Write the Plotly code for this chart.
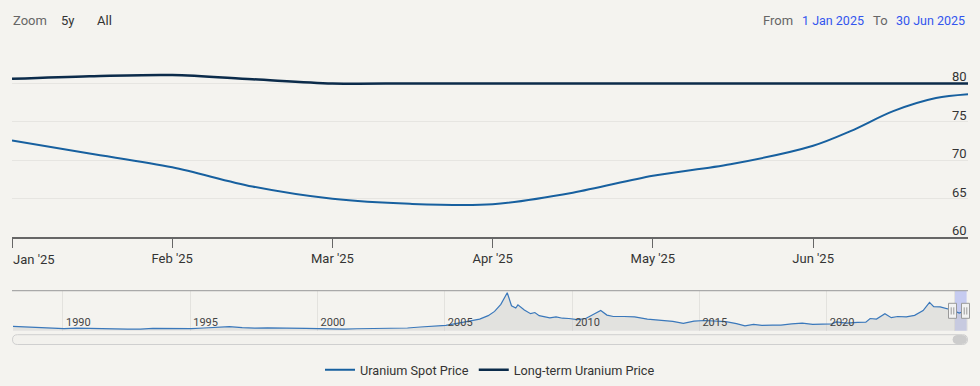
import plotly.graph_objects as go
import datetime as dt
import calendar

# ---------------- data ----------------
main_dates = ["2025-01-01", "2025-01-16", "2025-02-01", "2025-02-15", "2025-03-01",
              "2025-03-16", "2025-04-01", "2025-04-16", "2025-05-01", "2025-05-16",
              "2025-06-01", "2025-06-08", "2025-06-16", "2025-06-24", "2025-06-30"]
spot_price = [72.6, 70.9, 69.1, 66.6, 65.0,
              64.35, 64.3, 65.8, 68.0, 69.5,
              71.9, 73.8, 76.4, 78.1, 78.6]
longterm_price = [80.6, 80.95, 81.1, 80.55, 80.0,
                  80.0, 80.0, 80.0, 80.0, 80.0,
                  80.0, 80.0, 80.0, 80.0, 80.0]

month_ticks = ["2025-01-01", "2025-02-01", "2025-03-01", "2025-04-01",
               "2025-05-01", "2025-06-01"]
month_labels = ["Jan '25", "Feb '25", "Mar '25", "Apr '25", "May '25", "Jun '25"]
y_ticks = [60, 65, 70, 75, 80]

nav_dates = ["1988-01-15", "1988-07-15", "1989-01-15", "1989-07-15", "1990-01-15", "1990-07-15",
             "1991-01-15", "1991-07-15", "1992-01-15", "1992-07-15", "1993-01-15", "1993-07-15",
             "1994-01-15", "1994-07-15", "1995-01-15", "1995-07-15", "1996-01-15", "1996-07-15",
             "1997-01-15", "1997-07-15", "1998-01-15", "1998-07-15", "1999-01-15", "1999-07-15",
             "2000-01-15", "2000-07-15", "2001-01-15", "2001-07-15", "2002-01-15", "2002-07-15",
             "2003-01-15", "2003-07-15", "2004-01-15", "2004-07-15", "2005-01-15", "2005-07-15",
             "2006-01-15", "2006-05-15", "2006-09-15", "2006-12-15", "2007-03-15", "2007-06-15",
             "2007-08-15", "2007-10-15", "2007-11-15", "2008-02-15", "2008-05-15", "2008-07-15",
             "2008-09-15", "2008-11-15", "2009-02-15", "2009-05-15", "2009-08-15", "2009-11-15",
             "2010-03-15", "2010-07-15", "2010-11-15", "2011-02-15", "2011-05-15", "2011-08-15",
             "2012-01-15", "2012-06-15", "2012-12-15", "2013-06-15", "2013-12-15", "2014-05-15",
             "2014-10-15", "2015-03-15", "2015-08-15", "2016-01-15", "2016-06-15", "2016-10-15",
             "2017-02-15", "2017-06-15", "2017-11-15", "2018-03-15", "2018-08-15", "2019-01-15",
             "2019-06-15", "2019-11-15", "2020-03-15", "2020-05-15", "2020-10-15", "2021-03-15",
             "2021-07-15", "2021-09-15", "2021-12-15", "2022-04-15", "2022-07-15", "2022-10-15",
             "2023-02-15", "2023-06-15", "2023-10-15", "2024-01-15", "2024-03-15", "2024-06-15",
             "2024-09-15", "2024-12-15", "2025-03-15", "2025-06-15", "2025-07-15"]
nav_values = [17.0, 15.0, 11.5, 10.0, 9.5, 11.0,
              9.5, 9.0, 8.5, 7.8, 7.5, 10.0,
              9.5, 9.3, 9.6, 11.5, 15.0, 16.3,
              13.0, 11.0, 12.0, 10.5, 10.8, 10.0,
              9.5, 8.0, 7.3, 8.8, 9.8, 9.9,
              10.2, 11.5, 15.0, 18.5, 21.0, 29.0,
              37.0, 43.0, 55.0, 70.0, 95.0, 136.0,
              90.0, 82.0, 93.0, 75.0, 62.0, 66.0,
              55.0, 52.0, 47.0, 51.0, 46.0, 45.0,
              41.0, 45.0, 60.0, 73.0, 57.0, 52.0,
              52.0, 51.0, 43.0, 40.0, 35.0, 28.0,
              36.0, 38.0, 36.0, 34.0, 27.0, 19.0,
              24.0, 20.5, 22.0, 21.5, 26.0, 28.5,
              24.5, 25.5, 26.0, 33.0, 29.0, 31.0,
              32.0, 45.0, 43.0, 62.0, 48.0, 52.0,
              50.5, 56.0, 73.0, 102.0, 87.0, 86.0,
              81.0, 74.0, 64.0, 72.0, 78.5]

range_from = "1 Jan 2025"
range_to = "30 Jun 2025"

# ---------------- helpers ----------------
W, H = 980, 386
ML, MR = 12, 12
PW = W - ML - MR


def ordinal_pos(d):
    """Ordinal (month-index) position, like Highcharts' ordinal axis."""
    t = dt.date.fromisoformat(d)
    days = calendar.monthrange(t.year, t.month)[1]
    return (t.year - 2025) * 12 + (t.month - 1) + (t.day - 1) / days


def px(x):
    return (x - ML) / PW


def py(y):
    return 1 - y / H


main_x = [ordinal_pos(d) for d in main_dates]
tick_x = [ordinal_pos(d) for d in month_ticks]

BG = "#f4f3ef"
SPOT = "#17609f"
LONG = "#0b2b4a"
FONT = "Roboto, Arial, sans-serif"

fig = go.Figure()

fig.add_trace(go.Scatter(
    x=main_x, y=spot_price, mode="lines", name="Uranium Spot Price",
    line=dict(color=SPOT, width=2, shape="spline", smoothing=0.9),
    xaxis="x", yaxis="y", hoverinfo="skip"))
fig.add_trace(go.Scatter(
    x=main_x, y=longterm_price, mode="lines", name="Long-term Uranium Price",
    line=dict(color=LONG, width=2.5, shape="spline", smoothing=0.9),
    xaxis="x", yaxis="y", hoverinfo="skip"))

# navigator series
fig.add_trace(go.Scatter(
    x=nav_dates, y=nav_values, mode="lines", showlegend=False,
    line=dict(color="#3a78bb", width=1.2),
    fill="tozeroy", fillcolor="rgba(200,200,200,0.4)",
    xaxis="x2", yaxis="y2", hoverinfo="skip"))

shapes = []
# navigator mask (selected range)
shapes.append(dict(type="rect", xref="x2", yref="paper",
                   x0="2025-01-01", x1="2025-06-30", y0=py(330.7), y1=py(290.7),
                   fillcolor="#c6cbf0", line=dict(width=0), layer="below"))
# navigator top border
shapes.append(dict(type="line", xref="paper", yref="paper",
                   x0=0, x1=1, y0=py(290.7), y1=py(290.7),
                   line=dict(color="#a9a9a9", width=1.2)))


def rrect(x0, y0, x1, y1, r):
    rx = r / PW
    ry = r / H
    X0, X1 = px(x0), px(x1)
    Y0, Y1 = py(y0), py(y1)  # Y0 top (higher), Y1 bottom
    return (f"M {X0+rx},{Y0} L {X1-rx},{Y0} Q {X1},{Y0} {X1},{Y0-ry} "
            f"L {X1},{Y1+ry} Q {X1},{Y1} {X1-rx},{Y1} L {X0+rx},{Y1} "
            f"Q {X0},{Y1} {X0},{Y1+ry} L {X0},{Y0-ry} Q {X0},{Y0} {X0+rx},{Y0} Z")


# scrollbar track and thumb
shapes.append(dict(type="path", xref="paper", yref="paper",
                   path=rrect(12.5, 334.7, 967.5, 344.5, 5),
                   fillcolor="#f2f1ed", line=dict(color="#cfcfcf", width=1)))
shapes.append(dict(type="path", xref="paper", yref="paper",
                   path=rrect(953, 335.6, 966.5, 343.6, 4),
                   fillcolor="#cccccc", line=dict(color="#cccccc", width=1)))

# navigator handles
for hx in (952.5, 965.5):
    shapes.append(dict(type="rect", xref="paper", yref="paper",
                       x0=px(hx - 4), x1=px(hx + 4), y0=py(318.3), y1=py(303.3),
                       fillcolor="#f2f2f2", line=dict(color="#999999", width=1)))
    for dx in (-1.3, 1.3):
        shapes.append(dict(type="line", xref="paper", yref="paper",
                           x0=px(hx + dx), x1=px(hx + dx), y0=py(314.5), y1=py(307.3),
                           line=dict(color="#999999", width=1)))

annotations = []


def text(x, y, s, color="#333333", size=13, anchor="left"):
    annotations.append(dict(text=s, xref="paper", yref="paper", x=px(x), y=py(y),
                            xanchor=anchor, yanchor="middle", showarrow=False,
                            font=dict(family=FONT, size=size, color=color)))


# range selector
text(11, 20.5, "Zoom", color="#666666")
text(59, 20.5, "5y", color="#333333")
text(95, 20.5, "All", color="#333333")
text(761, 20.5, "From", color="#666666")
text(800, 20.5, range_from, color="#3355ee", size=12.5)
text(871, 20.5, "To", color="#666666")
text(967, 20.5, range_to, color="#3355ee", size=12.5, anchor="right")
# first month label (left aligned like Highcharts edge label)
text(11, 259, month_labels[0], color="#333333")

# y-axis labels: right-aligned just above each gridline (Highcharts style)
for v in y_ticks:
    annotations.append(dict(text=str(v), xref="paper", yref="y", x=px(968), y=v,
                            xanchor="right", yanchor="middle", yshift=6.5,
                            showarrow=False, borderpad=0,
                            font=dict(family=FONT, size=13, color="#333333")))

fig.update_layout(
    width=W, height=H,
    margin=dict(l=ML, r=MR, t=0, b=0, pad=0),
    paper_bgcolor=BG, plot_bgcolor=BG,
    font=dict(family=FONT, size=13, color="#333333"),
    showlegend=True,
    legend=dict(orientation="h", x=0.5, xanchor="center", y=py(370), yanchor="middle",
                font=dict(family=FONT, size=12.7, color="#333333"),
                bgcolor="rgba(0,0,0,0)", itemwidth=30, tracegroupgap=0),
    xaxis=dict(domain=[0, 1], anchor="y", range=[0, main_x[-1]],
               tickmode="array", tickvals=tick_x,
               ticktext=[""] + month_labels[1:],
               showgrid=False, zeroline=False,
               showline=True, linecolor="#666666", linewidth=1.5,
               ticks="outside", ticklen=9, tickcolor="#666666", tickwidth=1.3,
               ticklabelstandoff=-1,
               tickfont=dict(family=FONT, size=13, color="#333333"),
               fixedrange=True),
    yaxis=dict(domain=[py(237.3), py(45)], anchor="x", side="right",
               range=[60, 85], tickmode="array", tickvals=y_ticks,
               showticklabels=False,
               showgrid=True, gridcolor="#e6e5e1", gridwidth=1,
               zeroline=False, showline=False, ticks="",
               fixedrange=True),
    xaxis2=dict(domain=[0, 1], anchor="y2", type="date",
                range=["1988-01-01", "2025-07-20"],
                tick0="1990-01-01", dtick="M60", tickformat="%Y",
                ticklabelposition="inside right",
                ticklabelstandoff=-3, ticklabelshift=3,
                showgrid=True, gridcolor="#e3e2de", gridwidth=1,
                zeroline=False, showline=False, ticks="",
                tickfont=dict(family=FONT, size=11, color="#444444"),
                fixedrange=True),
    yaxis2=dict(domain=[py(330.7), py(290.7)], anchor="x2", range=[2, 143],
                visible=False, showgrid=False, zeroline=False, fixedrange=True),
    shapes=shapes,
    annotations=annotations,
)

fig.write_html("out.html", config={"displayModeBar": False},
               post_script="document.body.style.margin='0';")
